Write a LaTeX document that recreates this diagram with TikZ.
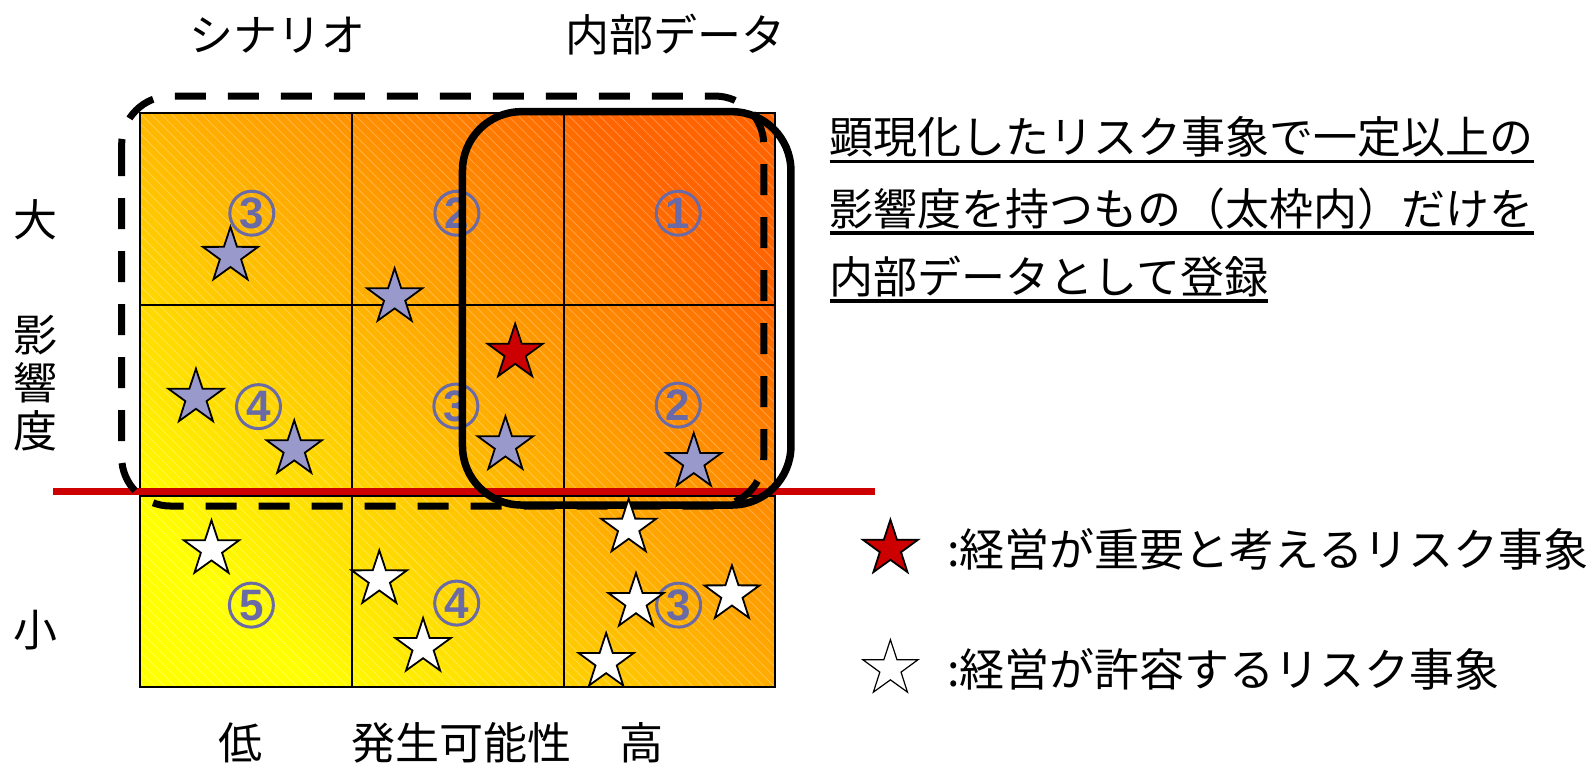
\documentclass[tikz,border=0pt]{standalone}
\usepackage{fontspec}
\setmainfont{Noto Sans CJK JP}
\newfontfamily\numfont{Liberation Sans}
\usetikzlibrary{shapes.geometric}
\definecolor{numc}{RGB}{106,106,166}
\definecolor{bluestar}{RGB}{153,153,204}
\definecolor{redstar}{RGB}{204,0,0}
\definecolor{redline}{RGB}{204,0,0}
\definecolor{gyellow}{RGB}{255,255,0}
\definecolor{gmid}{RGB}{255,176,0}
\definecolor{gred}{RGB}{255,100,0}
\newcommand\myul[1]{\setbox0\hbox{#1}\rlap{\rule[-9.5pt]{\wd0}{3.5pt}}\box0}
\begin{document}
\begin{tikzpicture}[x=1.0153pt,y=-1.0153pt,
  every node/.style={inner sep=0pt, outer sep=0pt},
  lbl/.style={font=\fontsize{44}{50}\selectfont},
  rtxt/.style={font=\fontsize{44}{50}\selectfont, anchor=base west},
  legtxt/.style={font=\fontsize{45}{50}\selectfont, anchor=base west},
  num/.style={circle, draw=numc, line width=3pt, minimum size=44pt,
    text=numc, font=\numfont\bfseries\fontsize{44}{50}\selectfont},
  starbase/.style={star, star points=5, star point ratio=2.6, minimum size=58pt, draw=black, line width=1.8pt},
  rstar/.style={starbase, fill=redstar},
  bstar/.style={starbase, fill=bluestar},
  wstar/.style={starbase, fill=white},
  gridline/.style={line width=2pt, draw=black},
  hatch/.style={white, opacity=0.28, line width=0.8pt}]
\useasboundingbox (0,0) rectangle (1568,754);
% gradient field
\shade[bottom color=gyellow, middle color=gmid, top color=gred, shading angle=-45]
  (138,111.6) rectangle (763.3,677);
\begin{scope}
  \clip (138,111.6) rectangle (763.3,677);
  \foreach \k in {-58,...,64} \draw[hatch] (138+\k*10,111.6) -- ++(566,566);
\end{scope}
% grid
\draw[gridline] (138,111.6) rectangle (763.3,677);
\draw[gridline] (346.9,111.6) -- (346.9,677);
\draw[gridline] (555.8,111.6) -- (555.8,677);
\draw[gridline] (138,300) -- (763.3,300);
\draw[gridline] (138,488.5) -- (763.3,488.5);
% circled numbers
\node[num] (n11) at (248,210) {3};
\node[num] (n12) at (450,210) {2};
\node[num] (n13) at (668,210) {1};
\node[num] (n21) at (254.6,400.5) {4};
\node[num] (n22) at (449,400) {3};
\node[num] (n23) at (668,399) {2};
\node[num] (n31) at (247.6,596) {5};
\node[num] (n32) at (449.8,594) {4};
\node[num] (n33) at (668.4,596) {3};
% threshold line
\draw[redline, line width=6.5pt] (52.5,484.3) -- (862,484.3);
% scenario (dashed) and internal data (solid) frames
\draw[line width=7pt, dash pattern=on 31pt off 22pt, rounded corners=49pt]
  (119.8,94.6) rectangle (752.3,498.4);
\draw[line width=7.5pt, rounded corners=59pt] (455.5,110) rectangle (779,497.4);
% stars
\node[bstar] (b1) at (227,252) {};
\node[bstar] (b2) at (388.7,292.8) {};
\node[rstar] (r1) at (507.4,347.4) {};
\node[bstar] (b3) at (193,391.7) {};
\node[bstar] (b4) at (289.8,442.5) {};
\node[bstar] (b5) at (497.8,438.6) {};
\node[bstar] (b6) at (683.3,455) {};
\node[wstar] (w1) at (208.3,541) {};
\node[wstar] (w2) at (373.6,570.6) {};
\node[wstar] (w3) at (416.7,637.3) {};
\node[wstar] (w4) at (619.2,519.7) {};
\node[wstar] (w5) at (626.4,593) {};
\node[wstar] (w6) at (720.9,585.4) {};
\node[wstar] (w7) at (597,652) {};
% axis labels
\node[lbl] (top1) at (273.7,34.5) {シナリオ};
\node[lbl] (top2) at (665,34.5) {内部データ};
\node[lbl] (big) at (35.3,216.7) {大};
\node[lbl] (y1) at (35.3,330) {影};
\node[lbl] (y2) at (35.3,376.7) {響};
\node[lbl] (y3) at (35.3,424.3) {度};
\node[lbl] (small) at (35.3,620.5) {小};
\node[lbl] (low) at (237,731.3) {低};
\node[lbl] (xlab) at (455,731.3) {発生可能性};
\node[lbl] (high) at (632,731.3) {高};
% explanation
\node[rtxt] (t1) at (817,151.5) {\myul{顕現化したリスク事象で一定以上の}};
\node[rtxt] (t2) at (817,222) {\myul{影響度を持つもの（太枠内）だけを}};
\node[rtxt] (t3) at (817,289) {\myul{内部データとして登録}};
% legend
\node[rstar] (lr) at (877,540.4) {};
\node[legtxt] (l1) at (933,558) {:経営が重要と考えるリスク事象};
\node[starbase, fill=white, line width=1.2pt] (lw) at (877,658.6) {};
\node[legtxt] (l2) at (933,676) {:経営が許容するリスク事象};
\end{tikzpicture}
\end{document}
